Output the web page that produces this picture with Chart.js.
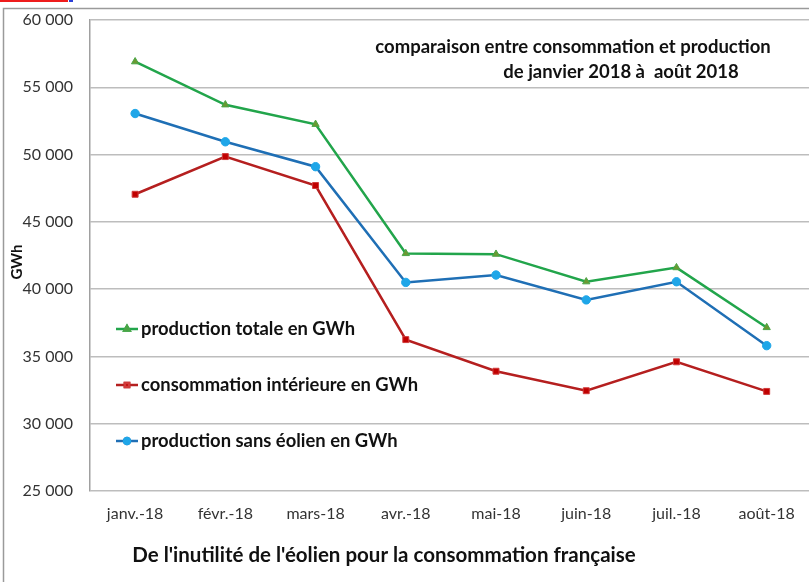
<!DOCTYPE html>
<html>
<head>
<meta charset="utf-8">
<script src="https://cdn.jsdelivr.net/npm/chart.js@4/dist/chart.umd.min.js"></script>
<style>
  html, body { margin: 0; padding: 0; background: #fff; overflow: hidden; }
  #wrap { width: 817px; height: 582px; }
</style>
</head>
<body>
<div id="wrap"><canvas id="chart"></canvas></div>
<script>
var months = ['janv.-18', 'févr.-18', 'mars-18', 'avr.-18', 'mai-18', 'juin-18', 'juil.-18', 'août-18'];
var productionTotale = [56900, 53700, 52250, 42650, 42600, 40550, 41600, 37150];
var consommation = [47050, 49850, 47700, 36250, 33900, 32450, 34600, 32400];
var productionSansEolien = [53050, 50950, 49100, 40500, 41050, 39200, 40550, 35800];

var FONT = 'Lato, "Open Sans", sans-serif';

// legend, titles and frame drawn by hand
var decorations = {
  id: 'decorations',
  beforeDraw: function(chart) {
    var ctx = chart.ctx;
    ctx.save();
    // outer frame
    ctx.strokeStyle = '#9a9a9a';
    ctx.lineWidth = 1.5;
    ctx.beginPath();
    ctx.moveTo(3.5, 582);
    ctx.lineTo(3.5, 8.5);
    ctx.lineTo(817, 8.5);
    ctx.stroke();
    // cut-off text remains at the very top
    ctx.strokeStyle = '#ee1c1c';
    ctx.lineWidth = 2;
    ctx.beginPath(); ctx.moveTo(0, 1); ctx.lineTo(68, 1); ctx.stroke();
    ctx.strokeStyle = '#2b3fd8';
    ctx.beginPath(); ctx.moveTo(69, 1); ctx.lineTo(73, 1); ctx.stroke();
    ctx.restore();
  },
  afterDraw: function(chart) {
    var ctx = chart.ctx;
    ctx.save();
    ctx.fillStyle = '#111';
    ctx.textBaseline = 'middle';

    ctx.font = 'bold 18.5px ' + FONT;
    ctx.textAlign = 'center';
    ctx.fillText('comparaison entre consommation et production', 573, 47);
    ctx.fillText('de janvier 2018 à  août 2018', 621, 72);

    ctx.font = 'bold 20.5px ' + FONT;
    ctx.fillText("De l'inutilité de l'éolien pour la consommation française", 384, 555);

    ctx.save();
    ctx.translate(17, 262);
    ctx.rotate(-Math.PI / 2);
    ctx.font = 'bold 15px ' + FONT;
    ctx.fillText('GWh', 0, 0);
    ctx.restore();

    // legend inside the plot
    var ys = [329, 385, 441];
    ctx.textAlign = 'left';
    ctx.font = 'bold 18.4px ' + FONT;
    chart.data.datasets.forEach(function(ds, i) {
      var y = ys[i];
      ctx.strokeStyle = ds.borderColor;
      ctx.lineWidth = 2.5;
      ctx.beginPath(); ctx.moveTo(116, y); ctx.lineTo(138, y); ctx.stroke();
      Chart.helpers.drawPoint(ctx, {
        pointStyle: ds.pointStyle, radius: 3, borderWidth: 1, rotation: 0
      }, 127, y);
      ctx.fillStyle = ds.pointBackgroundColor;
      ctx.strokeStyle = ds.pointBorderColor;
      ctx.fill(); ctx.stroke();
      ctx.fillStyle = '#111';
      ctx.fillText(ds.label, 141, y);
    });
    ctx.restore();
  }
};

new Chart(document.getElementById('chart'), {
  type: 'line',
  data: {
    labels: months,
    datasets: [
      {
        label: 'production totale en GWh',
        data: productionTotale,
        borderColor: '#22a54b',
        borderWidth: 2.5,
        pointStyle: 'triangle',
        pointRadius: 4.2,
        pointBackgroundColor: '#6a9a32',
        pointBorderColor: '#4aa546',
        pointBorderWidth: 1
      },
      {
        label: 'consommation intérieure en GWh',
        data: consommation,
        borderColor: '#b51f1f',
        borderWidth: 2.5,
        pointStyle: 'rect',
        pointRadius: 4.2,
        pointBackgroundColor: '#c00000',
        pointBorderColor: '#d03a3a',
        pointBorderWidth: 1
      },
      {
        label: 'production sans éolien en GWh',
        data: productionSansEolien,
        borderColor: '#1f6fb5',
        borderWidth: 2.5,
        pointStyle: 'circle',
        pointRadius: 4.2,
        pointBackgroundColor: '#1fa6e8',
        pointBorderColor: '#1fa6e8',
        pointBorderWidth: 1
      }
    ]
  },
  options: {
    responsive: true,
    maintainAspectRatio: false,
    animation: false,
    layout: { padding: { top: 20, right: 0, bottom: 0, left: 0 } },
    plugins: { legend: { display: false }, tooltip: { enabled: false } },
    scales: {
      x: {
        offset: true,
        grid: { display: false, drawTicks: false },
        border: { display: false },
        ticks: { color: '#333', font: { family: FONT, size: 16 }, padding: 13, maxRotation: 0 },
        afterFit: function(scale) { scale.height = 91; }
      },
      y: {
        min: 25000,
        max: 60000,
        grid: { color: '#bdbdbd', lineWidth: 1.5, drawTicks: false },
        border: { color: '#a0a0a0', width: 1.5 },
        ticks: {
          stepSize: 5000,
          color: '#333',
          font: { family: FONT, size: 16 },
          padding: 17,
          callback: function(v) { return String(v).replace(/(\d{2})(\d{3})$/, '$1 $2'); }
        },
        afterFit: function(scale) {
          scale.width = 90;
          scale.paddingTop = 0;
          scale.paddingBottom = 0;
        }
      }
    }
  },
  plugins: [decorations]
});
</script>
</body>
</html>
